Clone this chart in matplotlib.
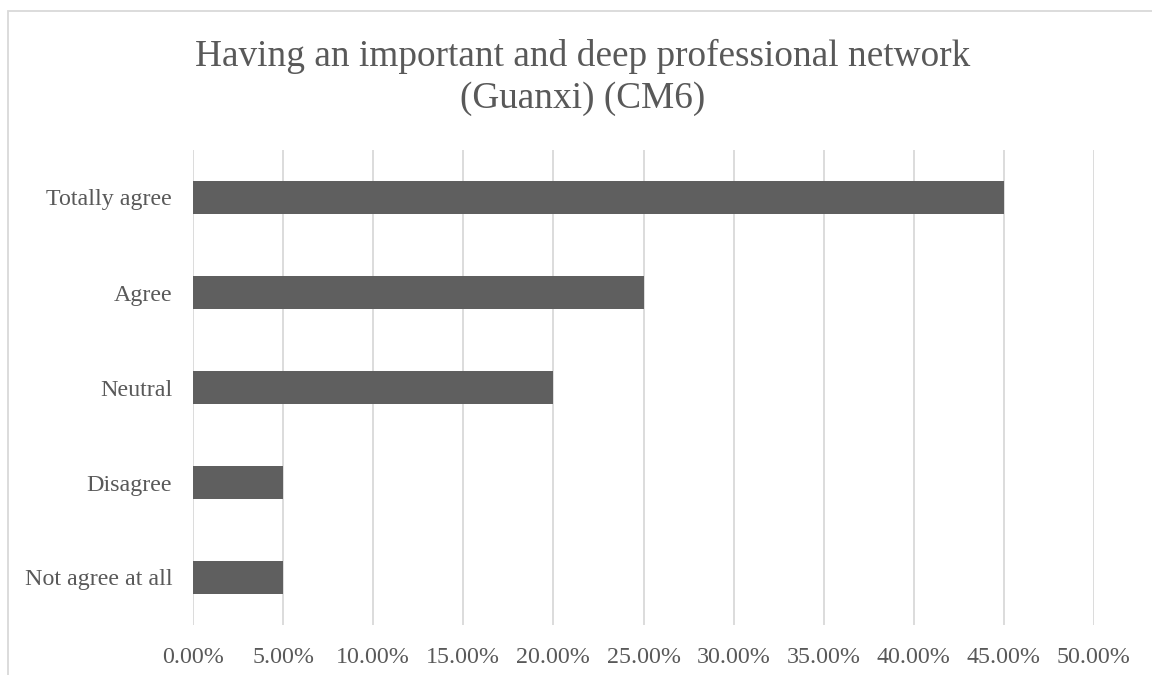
import matplotlib.pyplot as plt
from matplotlib.patches import Rectangle
from matplotlib.ticker import FuncFormatter

# survey responses, bottom to top as drawn
categories = ["Not agree at all", "Disagree", "Neutral", "Agree", "Totally agree"]
shares     = [0.05, 0.05, 0.20, 0.25, 0.45]
x_ticks    = [0.00, 0.05, 0.10, 0.15, 0.20, 0.25, 0.30, 0.35, 0.40, 0.45, 0.50]

TEXT = "#595959"
BAR  = "#5f5f5f"
GRID = "#d9d9d9"

plt.rcParams["font.family"] = ["Liberation Serif", "DejaVu Serif"]

W, H = 1152, 675
fig = plt.figure(figsize=(W / 100, H / 100), dpi=100)

# chart frame (Excel-style light border, cropped at right/bottom)
fig.patches.append(Rectangle((8 / W, -0.1), 1.2, 1 - 11 / H + 0.1,
                             transform=fig.transFigure, fill=False,
                             edgecolor=GRID, linewidth=1.3))

ax = fig.add_axes([193 / W, 1 - 625 / H, (1094 - 193) / W, (625 - 150) / H])
ypos = list(range(len(categories)))
ax.barh(ypos, shares, height=0.35, color=BAR, zorder=3)

ax.set_xlim(0, 0.5)
ax.set_ylim(-0.5, len(categories) - 0.5)
ax.set_xticks(x_ticks)
ax.xaxis.set_major_formatter(FuncFormatter(lambda v, _: f"{v*100:.2f}%"))
ax.set_yticks(ypos)
ax.set_yticklabels(categories)

ax.grid(axis="x", color=GRID, linewidth=1.3, zorder=0)
for s in ax.spines.values():
    s.set_visible(False)
ax.tick_params(axis="x", length=0, pad=16, labelsize=17.3, labelcolor=TEXT)
ax.tick_params(axis="y", length=0, pad=15, labelsize=17.3, labelcolor=TEXT)

fig.text(583 / W, 1 - 77 / H,
         "Having an important and deep professional network\n(Guanxi) (CM6)",
         ha="center", va="center", fontsize=26.8, color=TEXT, linespacing=1.28)

fig.savefig("out.png", dpi=100)
